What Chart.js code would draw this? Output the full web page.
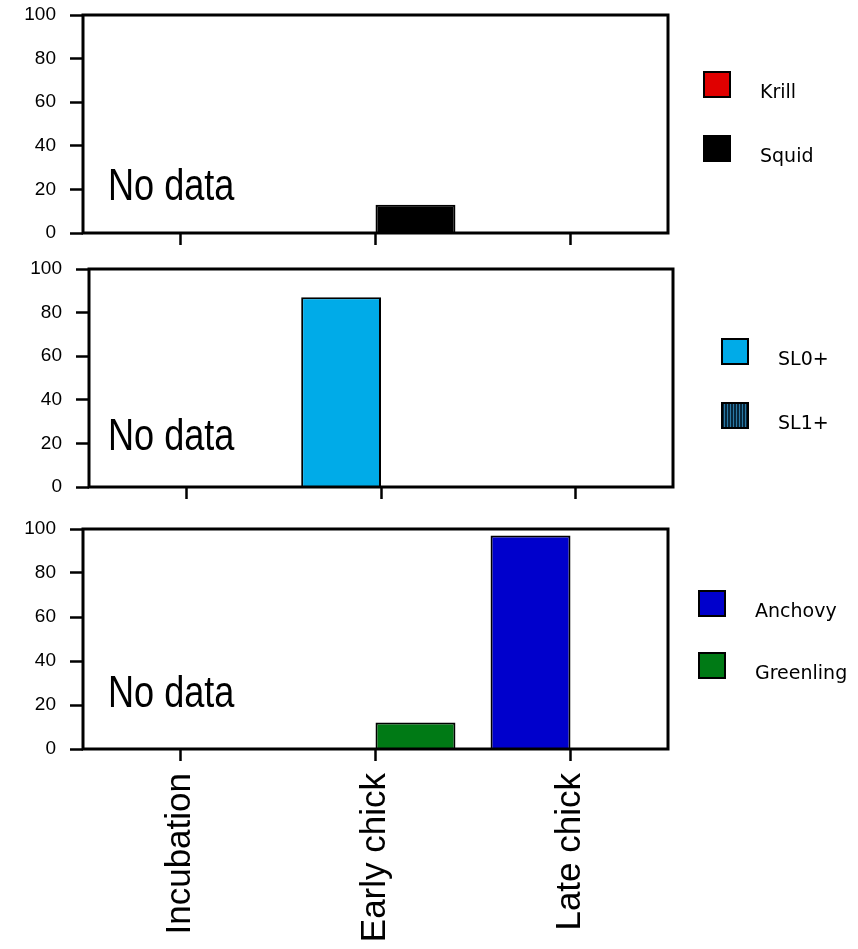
<!DOCTYPE html>
<html><head><meta charset="utf-8">
<script src="https://cdn.jsdelivr.net/npm/chart.js@4"></script>
<style>
html,body{margin:0;padding:0;background:#fff;}
#wrap{position:relative;width:858px;height:949px;background:#fff;}
canvas{position:absolute;left:0;}
</style></head><body>
<div id="wrap">
<canvas id="c1" width="858" height="255" style="top:0px"></canvas>
<canvas id="c2" width="858" height="255" style="top:255px"></canvas>
<canvas id="c3" width="858" height="439" style="top:510px"></canvas>
</div>
<script>
// ---- data ----
const categories = ['Incubation', 'Early chick', 'Late chick'];
const yTickValues = [0, 20, 40, 60, 80, 100];
const noDataText = 'No data';

const krill = [null, 0, 0];
const squid = [null, 13, 0];
const sl0 = [null, 87, 0];
const sl1 = [null, 0, 0];
const anchovy = [null, 0, 97];
const greenling = [null, 12, 0];

// ---- styles ----
function stripePattern() {
  const c = document.createElement('canvas');
  c.width = 3; c.height = 4;
  const g = c.getContext('2d');
  g.fillStyle = '#06263a'; g.fillRect(0, 0, 3, 4);
  g.fillStyle = '#2a78a4'; g.fillRect(1, 0, 1, 4);
  return document.getElementById('c2').getContext('2d').createPattern(c, 'repeat');
}

const framePlugin = {
  id: 'frame',
  afterDraw(chart) {
    const { ctx, chartArea: a } = chart;
    ctx.save();
    ctx.strokeStyle = '#000';
    ctx.lineWidth = 3;
    ctx.strokeRect(a.left, a.top, a.right - a.left, a.bottom - a.top);
    ctx.restore();
  }
};

const sideLegend = {
  id: 'sideLegend',
  afterDraw(chart, args, o) {
    const ctx = chart.ctx;
    ctx.save();
    chart.data.datasets.forEach((ds, i) => {
      const y = o.ys[i];
      ctx.fillStyle = ds.backgroundColor;
      ctx.fillRect(o.x, y, 28, 27);
      ctx.lineWidth = 2;
      ctx.strokeStyle = '#000';
      ctx.strokeRect(o.x + 1, y + 1, 26, 25);
      ctx.fillStyle = '#000';
      ctx.font = '19px "DejaVu Sans"';
      ctx.textBaseline = 'alphabetic';
      ctx.textAlign = 'left';
      ctx.fillText(ds.label, o.tx, y + 27);
    });
    ctx.restore();
  }
};

const noDataPlugin = {
  id: 'noData',
  afterDraw(chart, args, o) {
    const ctx = chart.ctx;
    ctx.save();
    ctx.fillStyle = '#000';
    ctx.font = '44px "Liberation Sans", Arial';
    ctx.textBaseline = 'alphabetic';
    ctx.textAlign = 'left';
    ctx.translate(o.x, o.y);
    ctx.scale(0.82, 1);
    ctx.fillText(noDataText, 0, 0);
    ctx.restore();
  }
};

function makeChart(id, datasets, L) {
  return new Chart(document.getElementById(id), {
    type: 'bar',
    data: {
      labels: categories,
      datasets: datasets.map(d => Object.assign({
        borderColor: '#000',
        borderWidth: 2,
        categoryPercentage: 0.82,
        barPercentage: 1.0
      }, d))
    },
    options: {
      responsive: false,
      animation: false,
      layout: { padding: { left: 0, top: L.top, right: L.right, bottom: 0 } },
      plugins: {
        legend: { display: false },
        tooltip: { enabled: false },
        sideLegend: L.legend,
        noData: L.noData
      },
      scales: {
        x: {
          type: 'category',
          offset: true,
          grid: { display: true, drawOnChartArea: false, drawTicks: true, tickLength: 12,
                  tickWidth: 2.5, tickColor: '#000', offset: false },
          border: { display: false },
          ticks: L.showX ? {
            display: true, color: '#000', autoSkip: false,
            minRotation: 90, maxRotation: 90, padding: 12,
            font: { family: '"Liberation Sans", Arial', size: 35 }
          } : { display: false },
          afterFit: s => { s.height = L.xh; s.paddingLeft = 0; s.paddingRight = 0; }
        },
        y: {
          min: 0, max: 100,
          afterBuildTicks: s => { s.ticks = yTickValues.map(v => ({ value: v })); },
          ticks: { color: '#000', padding: 14, font: { family: '"Liberation Sans", Arial', size: 19 } },
          grid: { display: true, drawOnChartArea: false, drawTicks: true, tickLength: 13,
                  tickWidth: 2.5, tickColor: '#000' },
          border: { display: false },
          afterFit: s => { s.width = L.yw; s.paddingTop = 0; s.paddingBottom = 0; }
        }
      }
    },
    plugins: [framePlugin, sideLegend, noDataPlugin]
  });
}

makeChart('c1', [
  { label: 'Krill', data: krill, backgroundColor: '#e00000' },
  { label: 'Squid', data: squid, backgroundColor: '#000000' }
], { top: 15, right: 190, yw: 83, xh: 22, showX: false,
     legend: { x: 703, ys: [71, 135], tx: 760 }, noData: { x: 108, y: 200 } });

makeChart('c2', [
  { label: 'SL0+', data: sl0, backgroundColor: '#00abe8' },
  { label: 'SL1+', data: sl1, backgroundColor: stripePattern() }
], { top: 14, right: 185, yw: 89, xh: 23, showX: false,
     legend: { x: 721, ys: [83, 147], tx: 778 }, noData: { x: 108, y: 195 } });

makeChart('c3', [
  { label: 'Anchovy', data: anchovy, backgroundColor: '#0000cc' },
  { label: 'Greenling', data: greenling, backgroundColor: '#007a15' }
], { top: 19, right: 190, yw: 83, xh: 200, showX: true,
     legend: { x: 698, ys: [80, 142], tx: 755 }, noData: { x: 108, y: 197 } });
</script>
</body></html>
